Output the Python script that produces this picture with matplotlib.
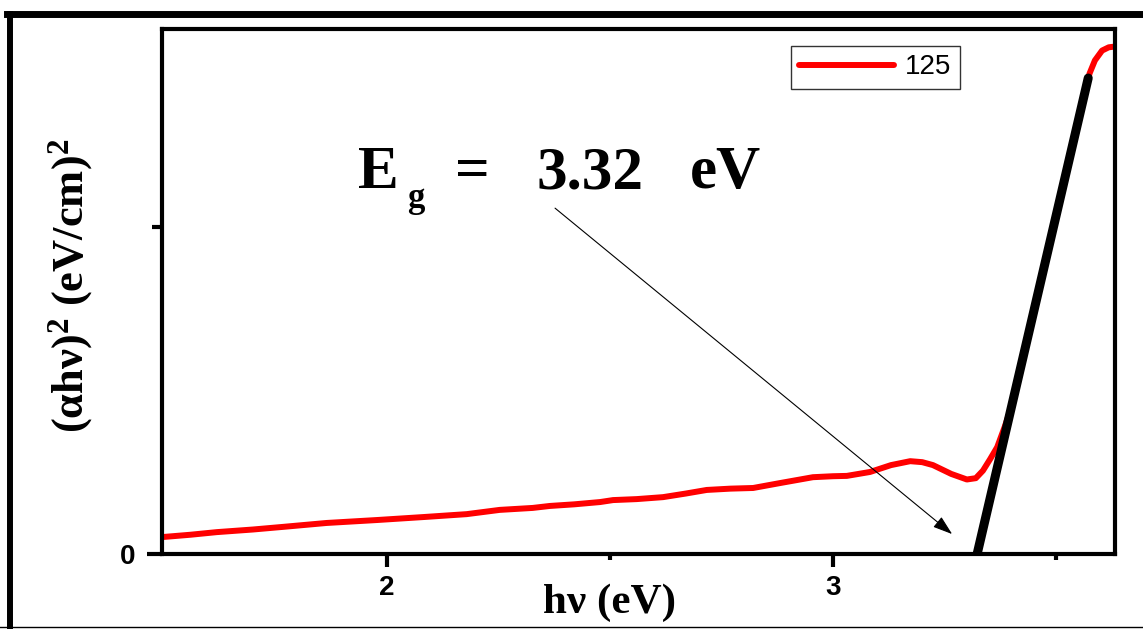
import numpy as np
import matplotlib
matplotlib.use("Agg")
import matplotlib.pyplot as plt
from matplotlib.lines import Line2D

plt.rcParams['mathtext.fontset'] = 'custom'
plt.rcParams['mathtext.rm'] = 'Liberation Serif:bold'
plt.rcParams['mathtext.bf'] = 'Liberation Serif:bold'
plt.rcParams['mathtext.it'] = 'Liberation Serif:bold:italic'

# (alpha h nu)^2 vs photon energy
hv = [1.498, 1.560, 1.619, 1.700, 1.767, 1.865, 1.978, 2.081, 2.179, 2.253,
      2.327, 2.365, 2.420, 2.478, 2.507, 2.560, 2.619, 2.670, 2.717, 2.770,
      2.821, 2.881, 2.955, 3.000, 3.031, 3.083, 3.130, 3.173, 3.200, 3.224,
      3.265, 3.300, 3.320, 3.336, 3.352, 3.368, 3.385, 3.400, 3.426, 3.460,
      3.494, 3.528, 3.563, 3.575, 3.587, 3.603, 3.618, 3.630]
ahv2 = [0.052, 0.059, 0.067, 0.075, 0.083, 0.095, 0.104, 0.113, 0.122, 0.135,
        0.141, 0.147, 0.152, 0.159, 0.165, 0.168, 0.174, 0.185, 0.196, 0.200,
        0.202, 0.217, 0.235, 0.238, 0.239, 0.251, 0.272, 0.284, 0.281, 0.272,
        0.245, 0.228, 0.232, 0.255, 0.290, 0.327, 0.390, 0.450, 0.600, 0.800,
        1.000, 1.200, 1.400, 1.470, 1.510, 1.540, 1.550, 1.552]

# linear fit used for the band gap
fit_x = [3.323, 3.572]
fit_y = [0.0, 1.456]

arrow_from = (2.377, 1.058)
arrow_to = (3.267, 0.061)

fig = plt.figure(figsize=(11.43, 6.29), dpi=100)
ax = fig.add_axes([0.1417, 0.1192, 0.9755 - 0.1417, 0.9539 - 0.1192])

ax.plot(hv, ahv2, color='#ff0000', lw=4.3, solid_capstyle='round', label='125')
ax.plot(fit_x, fit_y, color='black', lw=6.5, solid_capstyle='round')

ax.annotate('', xy=arrow_to, xytext=arrow_from,
            arrowprops=dict(arrowstyle='-|>,head_length=0.6,head_width=0.2',
                            color='black', lw=0.8, mutation_scale=20,
                            shrinkA=0, shrinkB=0))

# E_g label, pieces placed like in the original
tf = dict(family='Liberation Serif', weight='bold', va='baseline', ha='center')
ax.text(1.980, 1.119, 'E', fontsize=44, **tf)
ax.text(2.065, 1.062, 'g', fontsize=25, **tf)
ax.text(2.191, 1.119, '=', fontsize=44, **tf)
ax.text(2.455, 1.119, '3.32', fontsize=44, **tf)
ax.text(2.758, 1.119, 'eV', fontsize=44, **tf)

ax.set_xlim(1.496, 3.632)
ax.set_ylim(0, 1.606)
ax.set_xticks([2, 3])
ax.set_xticklabels(['2', '3'])
ax.set_xticks([2.5, 3.5], minor=True)
ax.set_yticks([0])
ax.set_yticklabels(['0'])
ax.set_yticks([1], minor=True)

for s in ax.spines.values():
    s.set_linewidth(3)
ax.tick_params(axis='x', which='major', length=9, width=3, pad=6)
ax.tick_params(axis='x', which='minor', length=4, width=3)
ax.tick_params(axis='y', which='major', length=11, width=3, pad=8)
ax.tick_params(axis='y', which='minor', length=7, width=3)
for lab in ax.get_xticklabels() + ax.get_yticklabels():
    lab.set_family('Liberation Sans')
    lab.set_fontweight('bold')
    lab.set_fontsize(20)

ax.set_xlabel('h\u03bd (eV)', family='Liberation Serif', weight='bold', fontsize=31)
ax.xaxis.set_label_coords(0.47, -0.056)
ax.set_ylabel('(\u03b1h\u03bd)$^\\mathbf{2}$ (eV/cm)$^\\mathbf{2}$',
              family='Liberation Serif', weight='bold', fontsize=32)
ax.yaxis.set_label_coords(-0.07, 0.51)

leg = ax.legend(loc='upper left', bbox_to_anchor=(0.660, 0.9676), borderaxespad=0,
                prop={'family': 'Liberation Sans', 'size': 20}, frameon=True,
                fancybox=False, handlelength=3.4, handletextpad=0.4,
                borderpad=0.3)
leg.get_frame().set_edgecolor('black')
leg.get_frame().set_linewidth(1)

# outer frame around the figure
fig.add_artist(Line2D([0.006, 1.0], [0.9785, 0.9785], color='black', lw=5,
                      transform=fig.transFigure))
fig.add_artist(Line2D([0.0088, 0.0088], [0.0, 0.9785], color='black', lw=4.3,
                      transform=fig.transFigure))
fig.add_artist(Line2D([0.0, 1.0], [0.0024, 0.0024], color='black', lw=1,
                      transform=fig.transFigure))

fig.savefig('out.png', dpi=100)
